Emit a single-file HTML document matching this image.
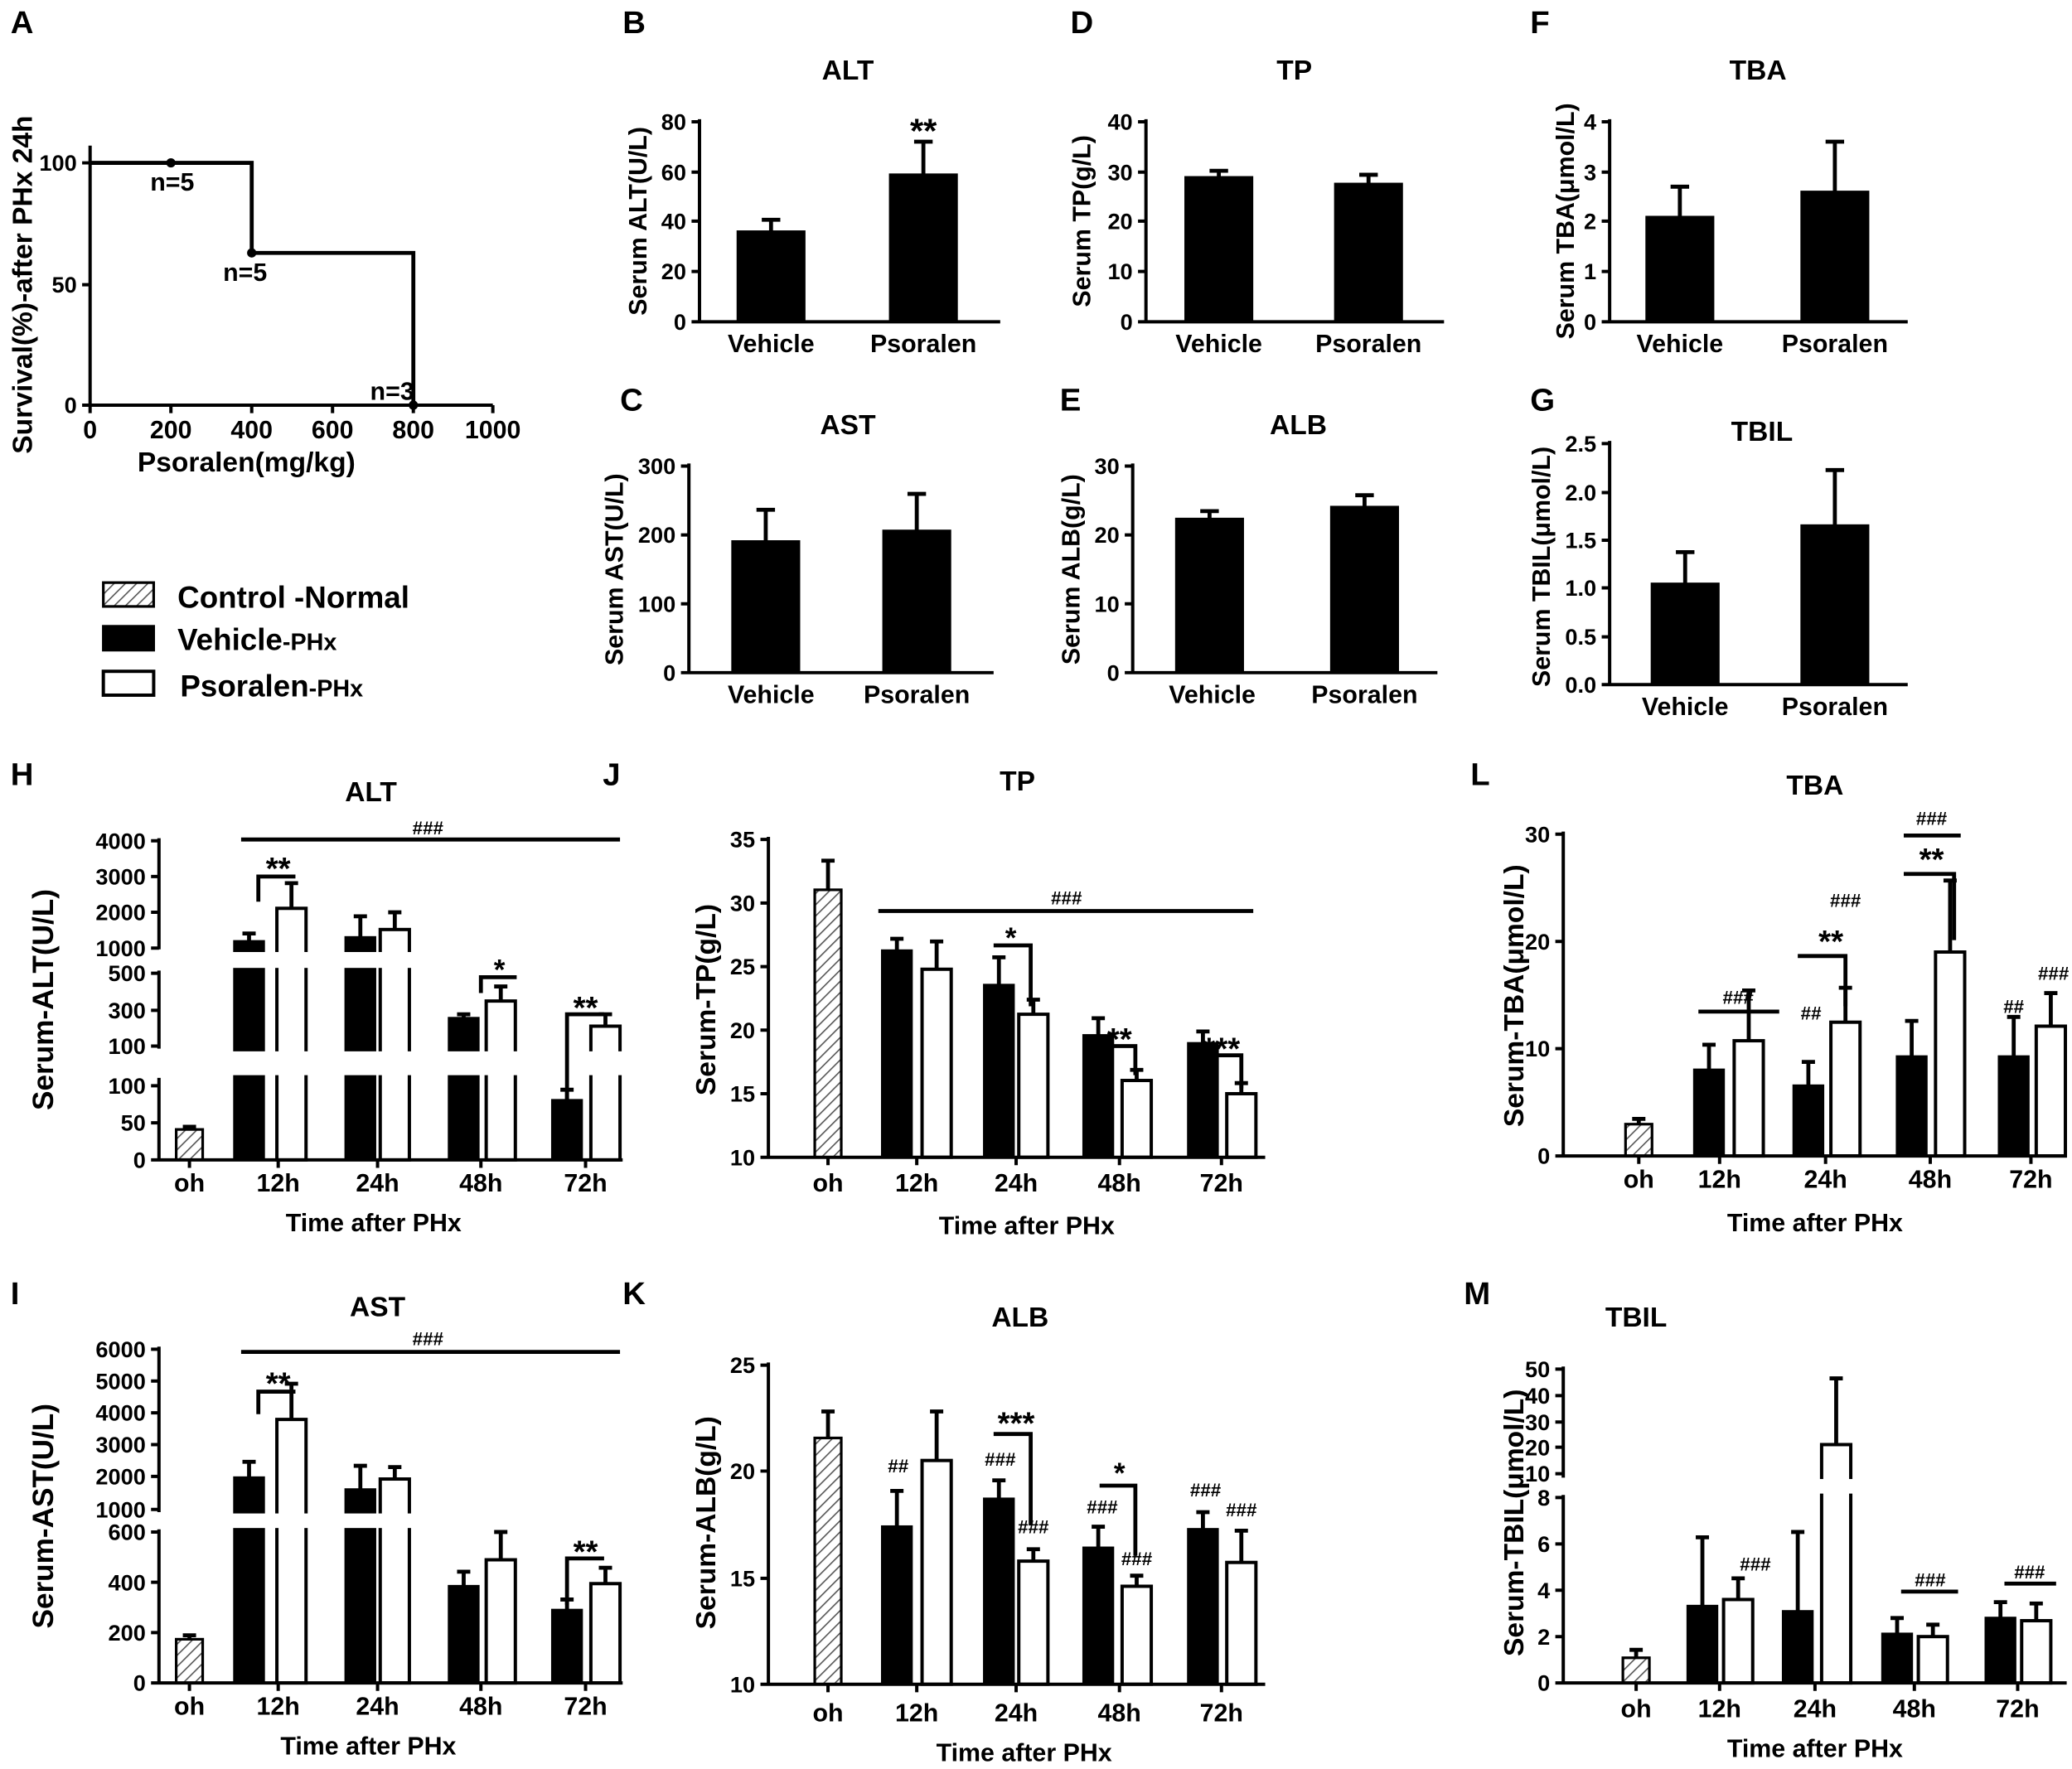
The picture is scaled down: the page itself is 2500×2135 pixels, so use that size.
<!DOCTYPE html>
<html><head><meta charset="utf-8"><style>
html,body{margin:0;padding:0;background:#fff}
svg{display:block}
text{font-family:"Liberation Sans",Arial,sans-serif;font-weight:bold;fill:#000}
.t{font-size:17px;text-anchor:end}
.c{font-size:19px;text-anchor:middle}
.h{font-size:21px;text-anchor:middle}
.p{font-size:24px}
.s{font-size:14px;text-anchor:middle}
.a{stroke:#000;stroke-width:2.5;fill:none}
.w{fill:#fff;stroke:#000;stroke-width:2.5}
.k{fill:#000;stroke:#000;stroke-width:2}
.x{fill:url(#hat);stroke:#000;stroke-width:2}
.e{stroke:#000;stroke-width:3;fill:none}
</style></head><body>
<svg width="2500" height="2135" viewBox="0 0 1564 1336" preserveAspectRatio="none" xmlns="http://www.w3.org/2000/svg">
<defs><pattern id="hat" width="6" height="6" patternUnits="userSpaceOnUse" patternTransform="rotate(45)"><rect width="6" height="6" fill="#fff"/><line x1="0" y1="0" x2="0" y2="6" stroke="#555" stroke-width="2"/></pattern></defs>

<text class="p" x="8" y="25">A</text><text class="p" x="470" y="25">B</text><text class="p" x="808" y="25">D</text><text class="p" x="1155" y="25">F</text>
<text class="p" x="468" y="310">C</text><text class="p" x="800" y="310">E</text><text class="p" x="1155" y="310">G</text>
<text class="p" x="8" y="593">H</text><text class="p" x="455" y="593">J</text><text class="p" x="1110" y="593">L</text>
<text class="p" x="8" y="985">I</text><text class="p" x="470" y="985">K</text><text class="p" x="1105" y="985">M</text>

<!-- A -->
<path class="a" d="M68,110V306H372M62,123H68M62,215H68M62,306H68M68,306v6M129,306v6M190,306v6M251,306v6M312,306v6M372,306v6"/>
<text class="t" x="58" y="129">100</text><text class="t" x="58" y="221">50</text><text class="t" x="58" y="312">0</text>
<text class="c" x="68" y="331">0</text><text class="c" x="129" y="331">200</text><text class="c" x="190" y="331">400</text><text class="c" x="251" y="331">600</text><text class="c" x="312" y="331">800</text><text class="c" x="372" y="331">1000</text>
<text class="h" x="186" y="356">Psoralen(mg/kg)</text>
<text class="h" transform="translate(24,215) rotate(-90)">Survival(%)-after PHx 24h</text>
<path class="e" d="M68,123H190V191H312V306"/>
<circle cx="129" cy="123" r="3.5"/><circle cx="190" cy="191" r="3.5"/><circle cx="312" cy="306" r="3.5"/>
<text class="c" x="130" y="144">n=5</text><text class="c" x="185" y="212">n=5</text><text class="c" x="296" y="302">n=3</text>

<!-- Legend -->
<rect x="78" y="440" width="38" height="18" class="x"/><text x="134" y="459" style="font-size:23px">Control -Normal</text>
<rect x="78" y="473" width="38" height="18" class="k"/><text x="134" y="491" style="font-size:23px">Vehicle<tspan style="font-size:18px">-PHx</tspan></text>
<rect x="78" y="507" width="38" height="18" class="w"/><text x="136" y="526" style="font-size:23px">Psoralen<tspan style="font-size:18px">-PHx</tspan></text>

<!-- B ALT -->
<text class="h" x="640" y="60">ALT</text>
<path class="a" d="M528,90V243H755M522,92h6M522,130h6M522,167h6M522,205h6M522,243h6"/>
<text class="t" x="518" y="98">80</text><text class="t" x="518" y="136">60</text><text class="t" x="518" y="173">40</text><text class="t" x="518" y="211">20</text><text class="t" x="518" y="249">0</text>
<rect class="k" x="557" y="175" width="50" height="68"/><rect class="k" x="672" y="132" width="50" height="111"/>
<path class="e" d="M582,175V166M575,166h14M697,132V107M690,107h14"/>
<text class="h" x="697" y="108" style="font-size:26px">**</text>
<text class="c" x="582" y="266">Vehicle</text><text class="c" x="697" y="266">Psoralen</text>
<text class="h" transform="translate(488,167) rotate(-90)" style="font-size:19px">Serum ALT(U/L)</text>

<!-- D TP -->
<text class="h" x="977" y="60">TP</text>
<path class="a" d="M865,90V243H1090M859,92h6M859,130h6M859,167h6M859,205h6M859,243h6"/>
<text class="t" x="855" y="98">40</text><text class="t" x="855" y="136">30</text><text class="t" x="855" y="173">20</text><text class="t" x="855" y="211">10</text><text class="t" x="855" y="249">0</text>
<rect class="k" x="895" y="134" width="50" height="109"/><rect class="k" x="1008" y="139" width="50" height="104"/>
<path class="e" d="M920,134V129M913,129h14M1033,139V132M1026,132h14"/>
<text class="c" x="920" y="266">Vehicle</text><text class="c" x="1033" y="266">Psoralen</text>
<text class="h" transform="translate(823,167) rotate(-90)" style="font-size:19px">Serum TP(g/L)</text>

<!-- F TBA -->
<text class="h" x="1327" y="60">TBA</text>
<path class="a" d="M1215,90V243H1440M1209,92h6M1209,130h6M1209,167h6M1209,205h6M1209,243h6"/>
<text class="t" x="1205" y="98">4</text><text class="t" x="1205" y="136">3</text><text class="t" x="1205" y="173">2</text><text class="t" x="1205" y="211">1</text><text class="t" x="1205" y="249">0</text>
<rect class="k" x="1243" y="164" width="50" height="79"/><rect class="k" x="1360" y="145" width="50" height="98"/>
<path class="e" d="M1268,164V141M1261,141h14M1385,145V107M1378,107h14"/>
<text class="c" x="1268" y="266">Vehicle</text><text class="c" x="1385" y="266">Psoralen</text>
<text class="h" transform="translate(1188,167) rotate(-90)" style="font-size:19px">Serum TBA(μmol/L)</text>

<!-- C AST -->
<text class="h" x="640" y="328">AST</text>
<path class="a" d="M520,350V508H750M514,352h6M514,404h6M514,456h6M514,508h6"/>
<text class="t" x="510" y="358">300</text><text class="t" x="510" y="410">200</text><text class="t" x="510" y="462">100</text><text class="t" x="510" y="514">0</text>
<rect class="k" x="553" y="409" width="50" height="99"/><rect class="k" x="667" y="401" width="50" height="107"/>
<path class="e" d="M578,409V385M571,385h14M692,401V373M685,373h14"/>
<text class="c" x="582" y="531">Vehicle</text><text class="c" x="692" y="531">Psoralen</text>
<text class="h" transform="translate(470,430) rotate(-90)" style="font-size:19px">Serum AST(U/L)</text>

<!-- E ALB -->
<text class="h" x="980" y="328">ALB</text>
<path class="a" d="M855,350V508H1085M849,352h6M849,404h6M849,456h6M849,508h6"/>
<text class="t" x="845" y="358">30</text><text class="t" x="845" y="410">20</text><text class="t" x="845" y="462">10</text><text class="t" x="845" y="514">0</text>
<rect class="k" x="888" y="392" width="50" height="116"/><rect class="k" x="1005" y="383" width="50" height="125"/>
<path class="e" d="M913,392V386M906,386h14M1030,383V374M1023,374h14"/>
<text class="c" x="915" y="531">Vehicle</text><text class="c" x="1030" y="531">Psoralen</text>
<text class="h" transform="translate(815,430) rotate(-90)" style="font-size:19px">Serum ALB(g/L)</text>

<!-- G TBIL -->
<text class="h" x="1330" y="333">TBIL</text>
<path class="a" d="M1215,333V517H1440M1209,335h6M1209,372h6M1209,408h6M1209,444h6M1209,481h6M1209,517h6"/>
<text class="t" x="1205" y="341">2.5</text><text class="t" x="1205" y="378">2.0</text><text class="t" x="1205" y="414">1.5</text><text class="t" x="1205" y="450">1.0</text><text class="t" x="1205" y="487">0.5</text><text class="t" x="1205" y="523">0.0</text>
<rect class="k" x="1247" y="441" width="50" height="76"/><rect class="k" x="1360" y="397" width="50" height="120"/>
<path class="e" d="M1272,441V417M1265,417h14M1385,397V355M1378,355h14"/>
<text class="c" x="1272" y="540">Vehicle</text><text class="c" x="1385" y="540">Psoralen</text>
<text class="h" transform="translate(1170,428) rotate(-90)" style="font-size:19px">Serum TBIL(μmol/L)</text>

<!-- H ALT broken -->
<text class="h" x="280" y="605">ALT</text>
<rect class="x" x="133" y="853" width="20" height="23"/><path class="e" d="M143,853V851M138,851h10"/>
<rect class="k" x="177" y="711" width="22" height="165"/><rect class="w" x="209" y="686" width="22" height="190"/>
<rect class="k" x="261" y="708" width="22" height="168"/><rect class="w" x="287" y="702" width="22" height="174"/>
<rect class="k" x="339" y="769" width="22" height="107"/><rect class="w" x="367" y="756" width="22" height="120"/>
<rect class="k" x="417" y="831" width="22" height="45"/><rect class="w" x="446" y="775" width="22" height="101"/>
<path class="e" d="M188,711V705M183,705h10M220,686V667M215,667h10M272,708V692M267,692h10M298,702V689M293,689h10M350,769V766M345,766h10M378,756V745M373,745h10M428,831V823M423,823h10M457,775V766M452,766h10"/>
<rect x="110" y="719" width="370" height="12" fill="#fff"/><rect x="110" y="794" width="370" height="18" fill="#fff"/>
<path class="a" d="M120,633V717M120,733V792M120,814V876H470M114,635h6M114,662h6M114,689h6M114,716h6M114,735h6M114,763h6M114,790h6M114,820h6M114,848h6M114,876h6M143,876v6M210,876v6M285,876v6M363,876v6M442,876v6"/>
<text class="t" x="110" y="641">4000</text><text class="t" x="110" y="668">3000</text><text class="t" x="110" y="695">2000</text><text class="t" x="110" y="722">1000</text><text class="t" x="110" y="741">500</text><text class="t" x="110" y="769">300</text><text class="t" x="110" y="796">100</text><text class="t" x="110" y="826">100</text><text class="t" x="110" y="854">50</text><text class="t" x="110" y="882">0</text>
<path class="e" d="M182,634H468M195,681V662H223M363,750V738H390M428,845V766H456"/>
<text class="s" x="323" y="630">###</text>
<text class="h" x="210" y="664" style="font-size:24px">**</text><text class="h" x="377" y="740" style="font-size:22px">*</text><text class="h" x="442" y="769" style="font-size:24px">**</text>
<text class="c" x="143" y="900">oh</text><text class="c" x="210" y="900">12h</text><text class="c" x="285" y="900">24h</text><text class="c" x="363" y="900">48h</text><text class="c" x="442" y="900">72h</text>
<text class="c" x="282" y="930">Time after PHx</text>
<text class="h" transform="translate(40,755) rotate(-90)" style="font-size:22px">Serum-ALT(U/L)</text>

<!-- J TP -->
<text class="h" x="768" y="597">TP</text>
<rect class="x" x="615" y="672" width="20" height="202"/><path class="e" d="M625,672V650M620,650h10"/>
<rect class="k" x="666" y="718" width="22" height="156"/><rect class="w" x="696" y="732" width="22" height="142"/>
<rect class="k" x="743" y="744" width="22" height="130"/><rect class="w" x="769" y="766" width="22" height="108"/>
<rect class="k" x="818" y="782" width="22" height="92"/><rect class="w" x="847" y="816" width="22" height="58"/>
<rect class="k" x="897" y="788" width="22" height="86"/><rect class="w" x="926" y="826" width="22" height="48"/>
<path class="e" d="M677,718V709M672,709h10M707,732V711M702,711h10M754,744V723M749,723h10M780,766V755M775,755h10M829,782V769M824,769h10M858,816V808M853,808h10M908,788V779M903,779h10M937,826V818M932,818h10"/>
<path class="a" d="M580,632V874H955M574,634h6M574,682h6M574,730h6M574,778h6M574,826h6M574,874h6M625,874v6M692,874v6M767,874v6M845,874v6M922,874v6"/>
<text class="t" x="570" y="640">35</text><text class="t" x="570" y="688">30</text><text class="t" x="570" y="736">25</text><text class="t" x="570" y="784">20</text><text class="t" x="570" y="832">15</text><text class="t" x="570" y="880">10</text>
<path class="e" d="M663,688H946M750,714H778V760M830,790H857V812M908,797H937V822"/>
<text class="s" x="805" y="683">###</text>
<text class="h" x="763" y="716" style="font-size:22px">*</text><text class="h" x="845" y="793" style="font-size:24px">**</text><text class="h" x="922" y="800" style="font-size:24px">***</text>
<text class="c" x="625" y="900">oh</text><text class="c" x="692" y="900">12h</text><text class="c" x="767" y="900">24h</text><text class="c" x="845" y="900">48h</text><text class="c" x="922" y="900">72h</text>
<text class="c" x="775" y="932">Time after PHx</text>
<text class="h" transform="translate(540,755) rotate(-90)" style="font-size:21px">Serum-TP(g/L)</text>

<!-- L TBA -->
<text class="h" x="1370" y="600">TBA</text>
<rect class="x" x="1227" y="849" width="20" height="24"/><path class="e" d="M1237,849V845M1232,845h10"/>
<rect class="k" x="1279" y="808" width="22" height="65"/><rect class="w" x="1309" y="786" width="22" height="87"/>
<rect class="k" x="1354" y="820" width="22" height="53"/><rect class="w" x="1382" y="772" width="22" height="101"/>
<rect class="k" x="1432" y="798" width="22" height="75"/><rect class="w" x="1461" y="719" width="22" height="154"/>
<rect class="k" x="1509" y="798" width="22" height="75"/><rect class="w" x="1537" y="775" width="22" height="98"/>
<path class="e" d="M1290,808V789M1285,789h10M1320,786V748M1315,748h10M1365,820V802M1360,802h10M1393,772V746M1388,746h10M1443,798V771M1438,771h10M1472,719V665M1467,665h10M1520,798V768M1515,768h10M1548,775V750M1543,750h10"/>
<path class="a" d="M1180,628V873H1560M1174,630h6M1174,711h6M1174,792h6M1174,873h6M1237,873v6M1298,873v6M1378,873v6M1457,873v6M1533,873v6"/>
<text class="t" x="1170" y="636">30</text><text class="t" x="1170" y="717">20</text><text class="t" x="1170" y="798">10</text><text class="t" x="1170" y="879">0</text>
<path class="e" d="M1282,764H1343M1357,722H1393V760M1437,631H1480M1437,660H1475V710"/>
<text class="s" x="1312" y="758">###</text><text class="s" x="1393" y="685">###</text>
<text class="h" x="1382" y="719" style="font-size:24px">**</text>
<text class="s" x="1458" y="623">###</text><text class="h" x="1458" y="657" style="font-size:24px">**</text>
<text class="s" x="1367" y="770">##</text>
<text class="s" x="1520" y="765">##</text><text class="s" x="1550" y="740">###</text>
<text class="c" x="1237" y="897">oh</text><text class="c" x="1298" y="897">12h</text><text class="c" x="1378" y="897">24h</text><text class="c" x="1457" y="897">48h</text><text class="c" x="1533" y="897">72h</text>
<text class="c" x="1370" y="930">Time after PHx</text>
<text class="h" transform="translate(1150,752) rotate(-90)" style="font-size:21px">Serum-TBA(μmol/L)</text>

<!-- I AST broken -->
<text class="h" x="285" y="994">AST</text>
<rect class="x" x="133" y="1238" width="20" height="33"/><path class="e" d="M143,1238V1235M138,1235h10"/>
<rect class="k" x="177" y="1116" width="22" height="155"/><rect class="w" x="209" y="1072" width="22" height="199"/>
<rect class="k" x="261" y="1125" width="22" height="146"/><rect class="w" x="287" y="1117" width="22" height="154"/>
<rect class="k" x="339" y="1198" width="22" height="73"/><rect class="w" x="367" y="1178" width="22" height="93"/>
<rect class="k" x="417" y="1216" width="22" height="55"/><rect class="w" x="446" y="1196" width="22" height="75"/>
<path class="e" d="M188,1116V1104M183,1104h10M220,1072V1045M215,1045h10M272,1125V1107M267,1107h10M298,1117V1108M293,1108h10M350,1198V1187M345,1187h10M378,1178V1157M373,1157h10M428,1216V1208M423,1208h10M457,1196V1184M452,1184h10"/>
<rect x="110" y="1143" width="370" height="11" fill="#fff"/>
<path class="a" d="M120,1017V1142M120,1155V1271H470M114,1019h6M114,1043h6M114,1067h6M114,1091h6M114,1115h6M114,1140h6M114,1157h6M114,1195h6M114,1233h6M114,1271h6M143,1271v6M210,1271v6M285,1271v6M363,1271v6M442,1271v6"/>
<text class="t" x="110" y="1025">6000</text><text class="t" x="110" y="1049">5000</text><text class="t" x="110" y="1073">4000</text><text class="t" x="110" y="1097">3000</text><text class="t" x="110" y="1121">2000</text><text class="t" x="110" y="1146">1000</text><text class="t" x="110" y="1163">600</text><text class="t" x="110" y="1201">400</text><text class="t" x="110" y="1239">200</text><text class="t" x="110" y="1277">0</text>
<path class="e" d="M182,1021H468M195,1068V1051H223M428,1212V1177H456"/>
<text class="s" x="323" y="1016">###</text>
<text class="h" x="210" y="1053" style="font-size:24px">**</text><text class="h" x="442" y="1180" style="font-size:24px">**</text>
<text class="c" x="143" y="1295">oh</text><text class="c" x="210" y="1295">12h</text><text class="c" x="285" y="1295">24h</text><text class="c" x="363" y="1295">48h</text><text class="c" x="442" y="1295">72h</text>
<text class="c" x="278" y="1325">Time after PHx</text>
<text class="h" transform="translate(40,1145) rotate(-90)" style="font-size:22px">Serum-AST(U/L)</text>

<!-- K ALB -->
<text class="h" x="770" y="1002">ALB</text>
<rect class="x" x="615" y="1086" width="20" height="186"/><path class="e" d="M625,1086V1066M620,1066h10"/>
<rect class="k" x="666" y="1153" width="22" height="119"/><rect class="w" x="696" y="1103" width="22" height="169"/>
<rect class="k" x="743" y="1132" width="22" height="140"/><rect class="w" x="769" y="1179" width="22" height="93"/>
<rect class="k" x="818" y="1169" width="22" height="103"/><rect class="w" x="847" y="1198" width="22" height="74"/>
<rect class="k" x="897" y="1155" width="22" height="117"/><rect class="w" x="926" y="1180" width="22" height="92"/>
<path class="e" d="M677,1153V1126M672,1126h10M707,1103V1066M702,1066h10M754,1132V1118M749,1118h10M780,1179V1170M775,1170h10M829,1169V1153M824,1153h10M858,1198V1190M853,1190h10M908,1155V1142M903,1142h10M937,1180V1156M932,1156h10"/>
<path class="a" d="M580,1029V1272H955M574,1031h6M574,1111h6M574,1192h6M574,1272h6M625,1272v6M692,1272v6M767,1272v6M845,1272v6M922,1272v6"/>
<text class="t" x="570" y="1037">25</text><text class="t" x="570" y="1117">20</text><text class="t" x="570" y="1198">15</text><text class="t" x="570" y="1278">10</text>
<path class="e" d="M750,1083H778V1152M830,1122H857V1175"/>
<text class="h" x="767" y="1083" style="font-size:24px">***</text><text class="h" x="845" y="1120" style="font-size:22px">*</text>
<text class="s" x="678" y="1112">##</text><text class="s" x="755" y="1107">###</text><text class="s" x="780" y="1158">###</text>
<text class="s" x="832" y="1143">###</text><text class="s" x="858" y="1182">###</text><text class="s" x="910" y="1130">###</text><text class="s" x="937" y="1145">###</text>
<text class="c" x="625" y="1300">oh</text><text class="c" x="692" y="1300">12h</text><text class="c" x="767" y="1300">24h</text><text class="c" x="845" y="1300">48h</text><text class="c" x="922" y="1300">72h</text>
<text class="c" x="773" y="1330">Time after PHx</text>
<text class="h" transform="translate(540,1150) rotate(-90)" style="font-size:21px">Serum-ALB(g/L)</text>

<!-- M TBIL broken -->
<text class="h" x="1235" y="1002">TBIL</text>
<rect class="x" x="1225" y="1252" width="20" height="19"/><path class="e" d="M1235,1252V1246M1230,1246h10"/>
<rect class="k" x="1274" y="1213" width="22" height="58"/><rect class="w" x="1301" y="1208" width="22" height="63"/>
<rect class="k" x="1346" y="1217" width="22" height="54"/><rect class="w" x="1375" y="1091" width="22" height="180"/>
<rect class="k" x="1421" y="1234" width="22" height="37"/><rect class="w" x="1448" y="1236" width="22" height="35"/>
<rect class="k" x="1499" y="1222" width="22" height="49"/><rect class="w" x="1526" y="1224" width="22" height="47"/>
<path class="e" d="M1285,1213V1161M1280,1161h10M1312,1208V1192M1307,1192h10M1357,1217V1157M1352,1157h10M1386,1091V1041M1381,1041h10M1432,1234V1222M1427,1222h10M1459,1236V1227M1454,1227h10M1510,1222V1210M1505,1210h10M1537,1224V1211M1532,1211h10"/>
<rect x="1170" y="1117" width="390" height="11" fill="#fff"/>
<path class="a" d="M1180,1032V1116M1180,1129V1271H1560M1174,1034h6M1174,1054h6M1174,1074h6M1174,1093h6M1174,1113h6M1174,1131h6M1174,1166h6M1174,1201h6M1174,1236h6M1174,1271h6M1235,1271v6M1298,1271v6M1370,1271v6M1445,1271v6M1523,1271v6"/>
<text class="t" x="1170" y="1040">50</text><text class="t" x="1170" y="1060">40</text><text class="t" x="1170" y="1080">30</text><text class="t" x="1170" y="1099">20</text><text class="t" x="1170" y="1119">10</text><text class="t" x="1170" y="1137">8</text><text class="t" x="1170" y="1172">6</text><text class="t" x="1170" y="1207">4</text><text class="t" x="1170" y="1242">2</text><text class="t" x="1170" y="1277">0</text>
<path class="e" d="M1435,1202H1478M1513,1196H1552"/>
<text class="s" x="1325" y="1186">###</text><text class="s" x="1457" y="1198">###</text><text class="s" x="1532" y="1192">###</text>
<text class="c" x="1235" y="1297">oh</text><text class="c" x="1298" y="1297">12h</text><text class="c" x="1370" y="1297">24h</text><text class="c" x="1445" y="1297">48h</text><text class="c" x="1523" y="1297">72h</text>
<text class="c" x="1370" y="1327">Time after PHx</text>
<text class="h" transform="translate(1150,1150) rotate(-90)" style="font-size:21px">Serum-TBIL(μmol/L)</text>
</svg>
</body></html>
